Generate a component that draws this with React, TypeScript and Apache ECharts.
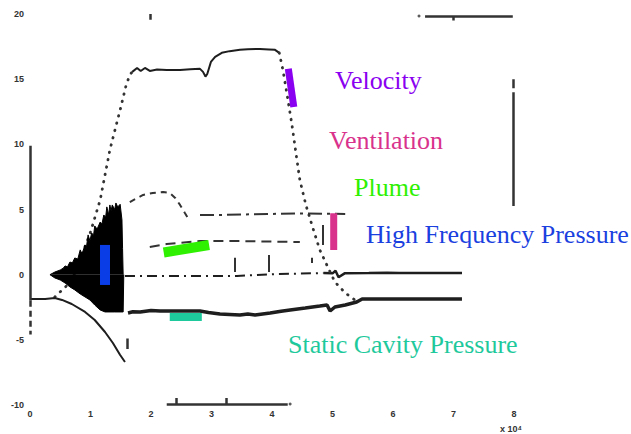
import React, { useEffect, useRef } from "react";
import * as echarts from "echarts";

// ---- axis ticks ----
const xTickLabels = ["0", "1", "2", "3", "4", "5", "6", "7", "8"];
const yTickLabels = ["-10", "-5", "0", "5", "10", "15", "20"];

// ---- Velocity (x in 1e4 units) ----
const velocityRise = [
  [0.41, -1.71], [0.69, -0.48], [0.99, 3.12], [1.16, 5.73], [1.32, 9.57],
  [1.49, 12.64], [1.59, 14.56], [1.65, 15.33], [1.69, 15.56],
];
const velocityPlateau = [
  [1.69, 15.56], [1.77, 15.86], [1.83, 15.63], [1.9, 15.86], [1.98, 15.63],
  [2.1, 15.74], [2.26, 15.71], [2.48, 15.71], [2.65, 15.76], [2.81, 15.79],
  [2.86, 15.56], [2.9, 15.2], [2.93, 15.4], [2.99, 16.32], [3.06, 16.71],
  [3.17, 17.02], [3.3, 17.15], [3.47, 17.25], [3.6, 17.3], [3.8, 17.32],
  [3.95, 17.28], [4.05, 17.25], [4.12, 17.02],
];
const velocityFall = [
  [4.12, 17.02], [4.18, 15.71], [4.25, 13.79], [4.33, 11.49], [4.4, 9.19],
  [4.46, 7.27], [4.56, 5.35], [4.66, 3.81], [4.79, 1.9], [4.93, 0.51],
  [5.04, -0.56], [5.21, -1.4], [5.37, -1.94], [5.42, -2.1],
];

// ---- Static cavity pressure ----
const staticLeft = [
  [0.02, -1.87], [0.25, -1.87], [0.41, -1.79], [0.53, -1.94], [0.69, -2.25],
  [0.91, -2.86], [1.07, -3.48], [1.24, -4.4], [1.37, -5.24], [1.49, -6.16],
  [1.57, -6.7],
];
const staticRight = [
  [1.62, -2.94], [1.7, -2.85], [1.82, -2.86], [2.0, -2.75], [2.15, -2.79],
  [2.48, -2.79], [2.81, -2.79], [2.95, -2.9], [3.14, -3.02], [3.3, -3.05],
  [3.47, -3.09], [3.6, -3.02], [3.72, -3.09], [3.97, -2.94], [4.15, -2.8],
  [4.3, -2.71], [4.55, -2.56], [4.79, -2.41], [4.91, -2.33], [4.96, -2.79],
  [5.04, -2.48], [5.21, -2.33], [5.4, -2.1], [5.49, -1.87], [6.12, -1.87],
  [7.14, -1.87],
];

// ---- High frequency pressure (oscillation envelope + tail) ----
const hfUpper = [
  [0.33, 0], [0.41, 0.2], [0.5, 0.36], [0.55, 0.5], [0.58, 0.67], [0.62, 0.6],
  [0.66, 0.97], [0.7, 0.9], [0.74, 1.28], [0.79, 1.2], [0.83, 1.9], [0.86, 1.6],
  [0.91, 2.28], [0.93, 2.0], [0.96, 3.05], [0.99, 2.6], [1.02, 3.2], [1.05, 3.0],
  [1.07, 3.74], [1.11, 3.5], [1.16, 4.04], [1.19, 3.9], [1.22, 4.58], [1.25, 4.4],
  [1.27, 5.2], [1.3, 4.6], [1.32, 5.35], [1.34, 4.9], [1.36, 5.35], [1.4, 5.0],
  [1.42, 5.5], [1.45, 5.2], [1.49, 5.4], [1.52, 4.2], [1.53, 2.0], [1.54, 0],
];
const hfLower = [
  [0.33, 0], [0.41, -0.25], [0.5, -0.41], [0.58, -0.64], [0.66, -0.94],
  [0.74, -1.17], [0.83, -1.48], [0.91, -1.71], [0.99, -1.94], [1.07, -2.33],
  [1.16, -2.71], [1.24, -2.86], [1.4, -2.86], [1.54, -2.86], [1.55, 0],
];
const hfTailBroken = [
  [1.57, -0.1], [2.3, -0.1], [3.42, -0.1], [4.1, 0.05], [4.85, 0.12],
];
const hfTailSolid = [
  [4.85, 0.12], [5.0, 0.1], [5.05, 0.3], [5.1, -0.2], [5.2, 0.1],
  [5.6, 0.12], [5.9, 0.15], [6.1, 0.12], [7.14, 0.12],
];

// ---- Ventilation & Plume ----
const ventilationA = [
  [1.65, 5.57], [1.74, 5.8], [1.87, 6.12], [2.03, 6.27], [2.2, 6.35],
  [2.31, 6.27], [2.4, 5.89], [2.48, 5.35], [2.56, 4.73], [2.61, 4.35],
];
const ventilationB = [
  [2.81, 4.58], [3.14, 4.58], [3.97, 4.66], [4.5, 4.7], [5.21, 4.66],
];
const plume = [
  [1.98, 2.12], [2.26, 2.35], [2.81, 2.58], [3.09, 2.58], [3.47, 2.58],
  [4.46, 2.5],
];
const plumeDrops = [
  [[3.39, 1.3], [3.39, 0.2]],
  [[3.95, 1.5], [3.95, 0.2]],
  [[4.65, 1.3], [4.65, 0.9]],
  [[4.84, 3.81], [4.84, 2.27]],
];

// ---- leftover frame fragments ----
const frameSolid = [
  [[0, 9.9], [0, -2.0]],
  [[6.53, 19.85], [7.98, 19.85]],
  [[6.99, 19.85], [6.99, 19.5]],
  [[2.26, -9.92], [4.26, -9.92]],
  [[2.41, -9.92], [2.41, -9.46]],
  [[3.24, -9.92], [3.24, -9.46]],
  [[7.98, 14.0], [7.98, 5.27]],
  [[7.98, 15.0], [7.98, 14.3]],
  [[1.98, 20.0], [1.98, 19.55]],
  [[1.6, -4.9], [1.6, -5.7]],
];
const frameDashed = [[[0, -2.0], [0, -4.6]]];
const frameDots = [[6.43, 19.85], [4.3, -9.92]];

// ---- coloured annotation bars ----
const velocityMarker = [[4.27, 15.79], [4.36, 12.87]];
const ventilationMarker = [[5.02, 4.72], [5.02, 1.89]];
const plumeMarker = [[2.21, 1.7], [2.96, 2.28]];
const hfMarker = [[1.24, 2.28], [1.24, -0.79]];
const staticMarker = [[2.31, -3.25], [2.84, -3.25]];

const INK = "#1e1e1e";

function line(data: number[][], lineStyle: any, z = 2) {
  return {
    type: "line",
    data,
    symbol: "none",
    z,
    lineStyle: { color: INK, width: 1.5, ...lineStyle },
  };
}

function bar(data: number[][], color: string, width: number) {
  return {
    type: "line",
    data,
    symbol: "none",
    z: 10,
    lineStyle: { color, width, cap: "butt" },
  };
}

export default function App() {
  const ref = useRef<HTMLDivElement>(null);
  useEffect(() => {
    document.body.style.margin = "0";
    const chart = echarts.init(ref.current!, null, { renderer: "svg" });
    const serif = '"Liberation Serif", "Times New Roman", serif';
    const label = (text: string, x: number, y: number, fill: string) => ({
      type: "text",
      x,
      y,
      style: { text, fill, fontSize: 26, fontFamily: serif, verticalAlign: "middle" },
    });
    const option = {
      animation: false,
      backgroundColor: "#ffffff",
      grid: { left: 30, right: 117, top: 14, bottom: 29, containLabel: false },
      xAxis: {
        type: "value",
        min: 0,
        max: 8,
        interval: 1,
        axisLine: { show: false },
        axisTick: { show: false },
        splitLine: { show: false },
        axisLabel: {
          margin: 4,
          fontSize: 9,
          fontWeight: "bold",
          color: "#333",
          formatter: (v: number) => xTickLabels[Math.round(v)] ?? "",
        },
      },
      yAxis: {
        type: "value",
        min: -10,
        max: 20,
        interval: 5,
        axisLine: { show: false },
        axisTick: { show: false },
        splitLine: { show: false },
        axisLabel: {
          margin: 6,
          fontSize: 9,
          fontWeight: "bold",
          color: "#333",
          formatter: (v: number) => yTickLabels[Math.round((v + 10) / 5)] ?? "",
        },
      },
      series: [
        // HF envelope
        {
          type: "line",
          data: hfUpper,
          symbol: "none",
          lineStyle: { color: "#000", width: 1 },
          areaStyle: { color: "#000", opacity: 1, origin: 0 },
          z: 3,
        },
        {
          type: "line",
          data: hfLower,
          symbol: "none",
          lineStyle: { color: "#000", width: 1 },
          areaStyle: { color: "#000", opacity: 1, origin: 0 },
          z: 3,
        },
        line(hfTailBroken, { type: [10, 5, 2, 5], width: 2 }),
        line(hfTailSolid, { width: 2.5 }),
        // velocity
        line(velocityRise, { type: [0.5, 7], width: 2.8, cap: "round", color: "#333" }),
        line(velocityPlateau, { width: 2 }),
        line(velocityFall, { type: [0.5, 7], width: 2.8, cap: "round", color: "#333" }),
        // static cavity pressure
        line(staticLeft, { width: 2 }),
        line(staticRight, { width: 3.5 }),
        // ventilation & plume
        line(ventilationA, { type: [6, 5], width: 2, color: "#333" }),
        line(ventilationB, { type: [14, 5, 3, 5], width: 2, color: "#333" }),
        line(plume, { type: [10, 6], width: 2, color: "#333" }),
        {
          type: "lines",
          coordinateSystem: "cartesian2d",
          data: plumeDrops.map((c) => ({ coords: c })),
          lineStyle: { color: "#333", width: 2, opacity: 1 },
          z: 2,
        },
        // frame fragments
        {
          type: "lines",
          coordinateSystem: "cartesian2d",
          data: frameSolid.map((c) => ({ coords: c })),
          lineStyle: { color: "#333", width: 2.5, opacity: 1 },
          z: 2,
        },
        {
          type: "lines",
          coordinateSystem: "cartesian2d",
          data: frameDashed.map((c) => ({ coords: c })),
          lineStyle: { color: "#333", width: 2.5, type: [6, 4], opacity: 1 },
          z: 2,
        },
        {
          type: "scatter",
          data: frameDots,
          symbolSize: 3,
          itemStyle: { color: "#333" },
        },
        // coloured markers
        bar(velocityMarker, "#8a00f0", 7),
        bar(ventilationMarker, "#d9328c", 7),
        bar(plumeMarker, "#2ef000", 10),
        bar(hfMarker, "#0a3de6", 10),
        bar(staticMarker, "#1ec99c", 8),
      ],
      graphic: [
        label("Velocity", 335, 80, "#8a00f0"),
        label("Ventilation", 329, 140, "#d9328c"),
        label("Plume", 354, 187, "#2ef000"),
        label("High Frequency Pressure", 366, 234, "#1a40e0"),
        label("Static Cavity Pressure", 288, 344, "#1ec99c"),
        { type: "text", x: 500, y: 429, style: { text: "x 10⁴", fill: "#333", fontSize: 9, fontWeight: "bold", verticalAlign: "middle" } },
      ],
    };
    chart.setOption(option as any);
    return () => chart.dispose();
  }, []);
  return <div ref={ref} style={{ width: 631, height: 434 }} />;
}
